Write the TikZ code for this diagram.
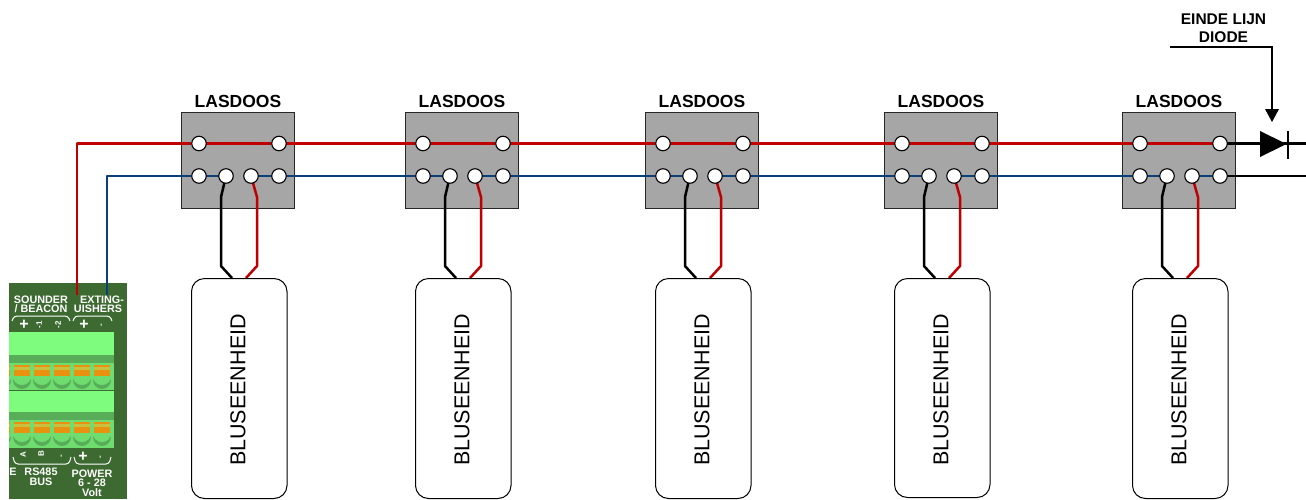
\documentclass[tikz,border=0pt]{standalone}
\usepackage{fontspec}
\setmainfont{Liberation Sans}
\pgfdeclarelayer{under}
\pgfdeclarelayer{wires}
\pgfsetlayers{under,wires,main}
\definecolor{wred}{HTML}{C00000}
\definecolor{wblue}{HTML}{0B3F78}
\definecolor{boxgray}{HTML}{A6A6A6}
\definecolor{pcb}{HTML}{3C6A30}
\definecolor{tlight}{HTML}{7DFC7D}
\definecolor{tmid}{HTML}{6FDC6F}
\definecolor{tdark}{HTML}{58AE58}
\definecolor{tor}{HTML}{E8920F}
\definecolor{tyl}{HTML}{C8C040}
\tikzset{
  lasbox/.style={draw=black!85,line width=1pt,fill=boxgray,minimum width=113pt,minimum height=95.5pt,inner sep=0pt,anchor=north west},
  post/.style={circle,draw=black,line width=1.1pt,fill=white,minimum size=14.5pt,inner sep=0pt},
  unit/.style={draw=black,line width=1pt,fill=white,rounded corners=13pt,minimum width=95.5pt,minimum height=220pt,inner sep=0pt,anchor=north west},
  unitlabel/.style={rotate=90,font=\fontsize{21.5}{24}\selectfont},
  boxlabel/.style={font=\fontsize{17.5}{20}\selectfont\bfseries,inner sep=0pt},
  wire/.style={line width=2.5pt,line join=round},
  bluewire/.style={line width=2.9pt,line join=round,wblue},
  pcbtext/.style={text=white,font=\fontsize{10.8}{11}\selectfont\bfseries,inner sep=0pt},
  pcbsym/.style={text=white,font=\fontsize{8}{8}\selectfont\bfseries,inner sep=0pt},
  pcbplus/.style={text=white,font=\fontsize{16}{16}\selectfont\bfseries,inner sep=0pt},
  brace/.style={draw=white,line width=1pt,rounded corners=3pt}
}
\begin{document}
\begin{tikzpicture}[x=1pt,y=-1pt]
\useasboundingbox (0,0) rectangle (1306,499);
% controller board
\node[fill=pcb,minimum width=118pt,minimum height=216pt,inner sep=0pt,anchor=north west] (board) at (9,283) {};
\begin{scope}
\clip (9,332) rectangle (114,448);
\fill[tlight] (9,332) rectangle (114,355);
\fill[tdark] (9,355) rectangle (114,363);
\fill[tmid] (9,363) rectangle (114,390);
\fill[tlight] (9,391) rectangle (114,412);
\fill[tdark] (9,412) rectangle (114,420);
\fill[tmid] (9,420) rectangle (114,448);
\foreach \x in {2,22,42,62,82,102}{
  \foreach \y in {365,422}{
    \fill[tdark] (\x,\y+15) circle (9pt);
    \fill[tmid] (\x,\y+10.5) circle (9.5pt);
    \fill[tor] (\x-8,\y) rectangle (\x+8,\y+2);
    \fill[tyl] (\x-8,\y+2) rectangle (\x+8,\y+5);
    \fill[tor] (\x-8,\y+5) rectangle (\x+8,\y+11);
  }
}
\end{scope}
\node[pcbtext] (ts1) at (41,299.5) {SOUNDER};
\node[pcbtext] (ts2) at (41,309) {/ BEACON};
\node[pcbtext] (te1) at (102,299.5) {EXTING-};
\node[pcbtext] (te2) at (98,309) {UISHERS};
\draw[brace] (12,321) -- (14,316) -- (68,316) -- (70,321);
\draw[brace] (73,321) -- (75,316) -- (110,316) -- (112,321);
\node[pcbplus] (pa) at (24,325) {+};
\node[pcbsym,rotate=90] (pb) at (39,325) {-1};
\node[pcbsym,rotate=90] (pc) at (58,325) {-2};
\node[pcbplus] (pd) at (84,325) {+};
\node[pcbsym,rotate=90] (pe) at (102,325) {-};
\node[pcbsym,rotate=90] (qa) at (23,455) {A};
\node[pcbsym,rotate=90] (qb) at (41,454) {B};
\node[pcbsym,rotate=90] (qc) at (62,456) {-};
\node[pcbplus] (qd) at (83,457) {+};
\node[pcbsym,rotate=90] (qe) at (101,457) {-};
\draw[brace] (13,457) -- (15,464) -- (69,464) -- (71,457);
\draw[brace] (74,457) -- (76,464) -- (109,464) -- (111,457);
\node[pcbtext] (le) at (13,472) {E};
\node[pcbtext] (lr) at (41,472) {RS485};
\node[pcbtext] (lb) at (41,481.5) {BUS};
\node[pcbtext] (lp) at (92,473.5) {POWER};
\node[pcbtext] (lv) at (92,483) {6 - 28};
\node[pcbtext] (lw) at (92,492.5) {Volt};
% junction boxes, posts and units
\foreach \n/\bx/\ux/\ub in {1/181/191/220,2/405/415/220,3/645/655/220,4/884/894/219,5/1122/1132/220}{
  \begin{pgfonlayer}{under}
    \node[lasbox] (box\n) at (\bx,112) {};
  \end{pgfonlayer}
  \node[boxlabel] (lab\n) at (\bx+57,101.5) {LASDOOS};
  \node[post] (ta\n) at (\bx+18,143.5) {};
  \node[post] (tb\n) at (\bx+98,143.5) {};
  \node[post] (ba\n) at (\bx+18,176) {};
  \node[post] (bb\n) at (\bx+45,176) {};
  \node[post] (bc\n) at (\bx+70,176) {};
  \node[post] (bd\n) at (\bx+98,176) {};
  \node[unit,minimum height=\ub pt] (unit\n) at (\ux,278) {};
  \node[unitlabel] (ul\n) at (\ux+47,390) {BLUSEENHEID};
  \coordinate (uk\n) at (\ux+41,278);
  \coordinate (ur\n) at (\ux+55,278);
  \begin{pgfonlayer}{wires}
    \draw[wire,black] (bb\n.center) -- ++(-5,21) -- ++(0,69) -- (uk\n);
    \draw[wire,wred] (bc\n.center) -- ++(6,21) -- ++(0,69) -- (ur\n);
    \draw[wire,wred] (ta\n.center) -- (tb\n.center);
    \draw[bluewire] (ba\n.center) -- (bb\n.center);
    \draw[bluewire] (bc\n.center) -- (bd\n.center);
  \end{pgfonlayer}
}
% main lines
\coordinate (redin) at (77,295);
\coordinate (bluein) at (107,295);
\coordinate (topout) at (1306,143.5);
\coordinate (botout) at (1306,176);
\draw[wire,wred] (redin) |- (ta1);
\draw[bluewire] (bluein) |- (ba1);
\foreach \a/\b in {1/2,2/3,3/4,4/5}{
  \begin{pgfonlayer}{wires}
  \draw[wire,wred] (tb\a.center) -- (ta\b.center);
  \draw[bluewire] (bd\a.center) -- (ba\b.center);
  \end{pgfonlayer}
}
% end-of-line diode
\coordinate (dtip) at (1286.5,144);
\coordinate (dtop) at (1260,131);
\coordinate (dbot) at (1260,157);
\begin{pgfonlayer}{wires}
\draw[wire,black] (tb5.center) -- (topout);
\draw[wire,black] (bd5.center) -- (botout);
\end{pgfonlayer}
\fill[black] (dtop) -- (dtip) -- (dbot) -- cycle;
\draw[black,line width=2pt] (1287.5,131) -- (1287.5,159);
\node[font=\fontsize{15.5}{18}\selectfont\bfseries,inner sep=0pt,align=center] (eol) at (1223.5,28) {EINDE LIJN\\DIODE};
\coordinate (calloutstart) at (1170,47);
\coordinate (callouttip) at (1272,122);
\draw[black,line width=2pt] (calloutstart) -| (1272,110);
\fill[black] (1265,109) -- (1279,109) -- (callouttip) -- cycle;
\end{tikzpicture}
\end{document}
